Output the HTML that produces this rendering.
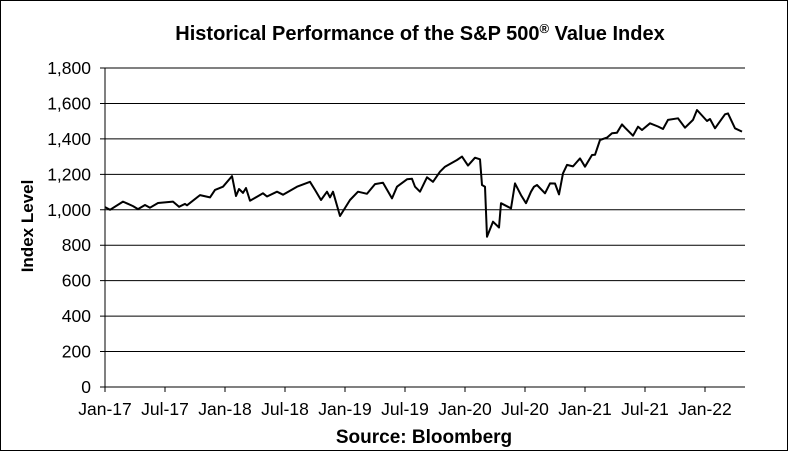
<!DOCTYPE html>
<html><head><meta charset="utf-8"><style>
body{margin:0;background:#fff}
svg text{font-family:"Liberation Sans",Arial,sans-serif;fill:#000}
</style></head><body>
<svg width="788" height="451" xmlns="http://www.w3.org/2000/svg">
<rect x="0.5" y="0.5" width="787" height="450" fill="#fff" stroke="#000"/>
<text x="420" y="40" text-anchor="middle" font-size="20" font-weight="bold">Historical  Performance of the S&amp;P 500<tspan font-size="13" dy="-7">®</tspan><tspan dy="7"> Value Index</tspan></text>
<g id="grid"></g><g id="yt"></g><g id="xt"></g>
<path id="line" fill="none" stroke="#000" stroke-width="2" stroke-linejoin="round"/>
<text transform="translate(33,226) rotate(-90)" text-anchor="middle" font-size="17" font-weight="bold">Index Level</text>
<text x="424" y="443" text-anchor="middle" font-size="19" font-weight="bold">Source: Bloomberg</text>
</svg>
<script>
const months=[0,0.5,1.8,2.8,3.3,4,4.5,5.3,6.8,7.4,8,8.2,9.5,10.5,11,11.8,12.7,13.1,13.4,13.8,14.1,14.5,15.2,15.8,16.2,17.2,17.8,19.2,20.5,21,21.6,22.2,22.5,22.8,23.5,24.5,25.3,26.2,27,27.8,28.7,29.2,30.2,30.7,31,31.5,32.2,32.8,33.5,34,35.2,35.7,36.3,37,37.5,37.7,38,38.2,38.8,39.4,39.6,40.3,40.6,41,41.6,42.1,42.6,42.9,43.2,44,44.5,45,45.4,45.8,46.2,46.8,47.5,48,48.7,49,49.5,50.2,50.7,51.2,51.7,52,52.8,53.3,53.7,54.5,55.3,55.8,56.3,57.3,58,58.8,59.2,60.2,60.5,61,62,62.3,63,63.7,64];
const values=[1015,1000,1046,1021,1004,1027,1012,1038,1046,1017,1033,1025,1083,1070,1112,1130,1190,1078,1117,1095,1123,1051,1074,1093,1075,1102,1085,1130,1158,1112,1055,1102,1070,1102,965,1055,1102,1090,1145,1153,1064,1130,1172,1175,1130,1102,1183,1158,1215,1243,1281,1300,1249,1294,1285,1140,1130,848,933,900,1037,1017,1008,1149,1083,1037,1102,1130,1140,1093,1149,1148,1087,1206,1253,1245,1290,1243,1309,1310,1394,1407,1432,1435,1482,1463,1418,1469,1450,1488,1470,1456,1507,1516,1463,1507,1563,1501,1512,1460,1539,1544,1460,1441];
const yTicks=[0,200,400,600,800,1000,1200,1400,1600,1800];
const xTickMonths=[0,6,12,18,24,30,36,42,48,54,60];
const xTickLabels=["Jan-17","Jul-17","Jan-18","Jul-18","Jan-19","Jul-19","Jan-20","Jul-20","Jan-21","Jul-21","Jan-22"];
const X0=105,X1=745,Y0=387,Y1=68;
const xs=m=>X0+(X1-X0)*m/64, ys=v=>Y0-(Y0-Y1)*v/1800;
const NS="http://www.w3.org/2000/svg";
const grid=document.getElementById('grid'),yt=document.getElementById('yt'),xt=document.getElementById('xt');
function mk(tag,attrs,parent,txt){const e=document.createElementNS(NS,tag);for(const k in attrs)e.setAttribute(k,attrs[k]);if(txt!==undefined)e.textContent=txt;parent.appendChild(e);return e;}
yTicks.forEach(v=>{
 const y=ys(v);
 const l=mk('line',{x1:X0-5,x2:X1,y1:y,y2:y,stroke:'#000','stroke-width':1},grid);
 
 
 const t=mk('text',{x:91,y:y+6,'text-anchor':'end','font-size':17.5},yt,v.toLocaleString('en-US'));
 
 
});
const ax=mk('line',{x1:X0,x2:X0,y1:Y1,y2:Y0,stroke:'#000','stroke-width':1},grid);


xTickMonths.forEach((m,i)=>{
 const x=xs(m);
 const tk=mk('line',{x1:x,x2:x,y1:Y0,y2:Y0+5,stroke:'#000'},xt);
 
 
 const t=mk('text',{x:x,y:415,'text-anchor':'middle','font-size':17.5},xt,xTickLabels[i]);
 
 
});
document.getElementById('line').setAttribute('d',months.map((m,i)=>(i?'L':'M')+xs(m).toFixed(1)+','+ys(values[i]).toFixed(1)).join(''));
</script>
</body></html>
